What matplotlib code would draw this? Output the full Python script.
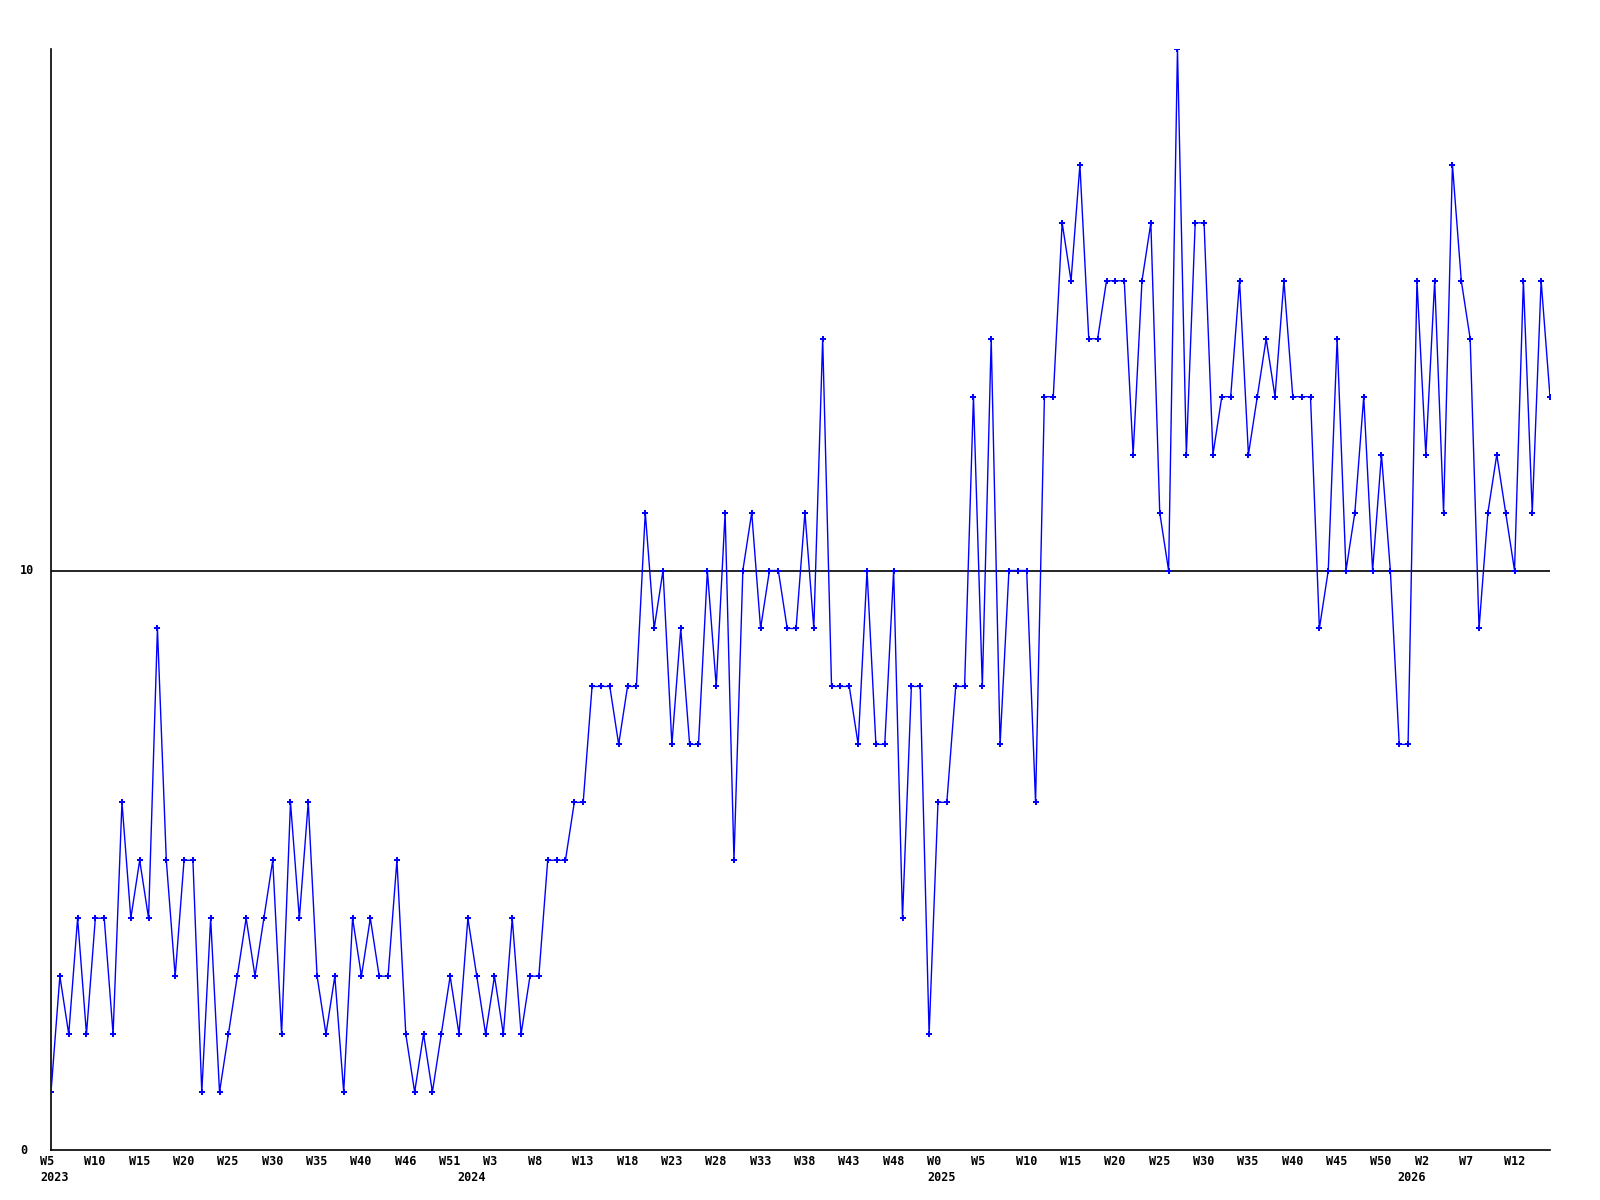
import numpy as np
import matplotlib.pyplot as plt
import matplotlib.transforms as mtransforms

# weekly counts, W5 2023 .. W14 2026
counts = [
    1, 3, 2, 4, 2, 4, 4, 2, 6, 4, 5, 4, 9, 5, 3, 5, 5, 1, 4, 1,
    2, 3, 4, 3, 4, 5, 2, 6, 4, 6, 3, 2, 3, 1, 4, 3, 4, 3, 3, 5,
    2, 1, 2, 1, 2, 3, 2, 4, 3, 2, 3, 2, 4, 2, 3, 3, 5, 5, 5, 6,
    6, 8, 8, 8, 7, 8, 8, 11, 9, 10, 7, 9, 7, 7, 10, 8, 11, 5, 10, 11,
    9, 10, 10, 9, 9, 11, 9, 14, 8, 8, 8, 7, 10, 7, 7, 10, 4, 8, 8, 2,
    6, 6, 8, 8, 13, 8, 14, 7, 10, 10, 10, 6, 13, 13, 16, 15, 17, 14, 14, 15,
    15, 15, 12, 15, 16, 11, 10, 19, 12, 16, 16, 12, 13, 13, 15, 12, 13, 14, 13, 15,
    13, 13, 13, 9, 10, 14, 10, 11, 13, 10, 12, 10, 7, 7, 15, 12, 15, 11, 17, 15,
    14, 9, 11, 12, 11, 10, 15, 11, 15, 13,
]

week_labels = ["W5", "W10", "W15", "W20", "W25", "W30", "W35", "W40", "W46", "W51",
               "W3", "W8", "W13", "W18", "W23", "W28", "W33", "W38", "W43", "W48",
               "W0", "W5", "W10", "W15", "W20", "W25", "W30", "W35", "W40", "W45",
               "W50", "W2", "W7", "W12"]
years = ["2023", "2024", "2025", "2026"]
year_start = [0, 47, 100, 153]
ytick_vals = [0, 10]

x = np.arange(len(counts))

fig = plt.figure(figsize=(16, 12), dpi=100)
ax = fig.add_axes([51 / 1600, 50 / 1200, 1499 / 1600, 1101 / 1200])

ax.plot(x, counts, color="#0000ff", lw=1.0, marker="P", ms=4.5, mew=0, zorder=3)
ax.axhline(10, color="black", lw=1.2, zorder=2)

ax.set_xlim(0, len(counts) - 1)
ax.set_ylim(0, 19)
for s in ["top", "right"]:
    ax.spines[s].set_visible(False)
for s in ["left", "bottom"]:
    ax.spines[s].set_linewidth(1.2)
ax.set_xticks([])
ax.set_yticks([])

font = dict(family="DejaVu Sans Mono", fontweight="bold", fontsize=8.5)

# y labels, left aligned in the margin
ytrans = mtransforms.blended_transform_factory(ax.transAxes, ax.transData)
for v in ytick_vals:
    ax.text(-31 / 1499, v, str(v), transform=ytrans, ha="left", va="center",
            clip_on=False, **font)

# week / year labels under the axis
trans = mtransforms.blended_transform_factory(ax.transData, ax.transAxes)
shift = mtransforms.ScaledTranslation(-11 / 100, 0, fig.dpi_scale_trans)
for i, lab in zip(range(0, len(counts), 5), week_labels):
    ax.text(i, -0.0105, lab, transform=trans + shift, ha="left", va="center",
            clip_on=False, **font)
for i, yr in zip(year_start, years):
    ax.text(i, -0.025, yr, transform=trans + shift, ha="left", va="center",
            clip_on=False, **font)

fig.savefig("out.png", dpi=100, facecolor="white")
